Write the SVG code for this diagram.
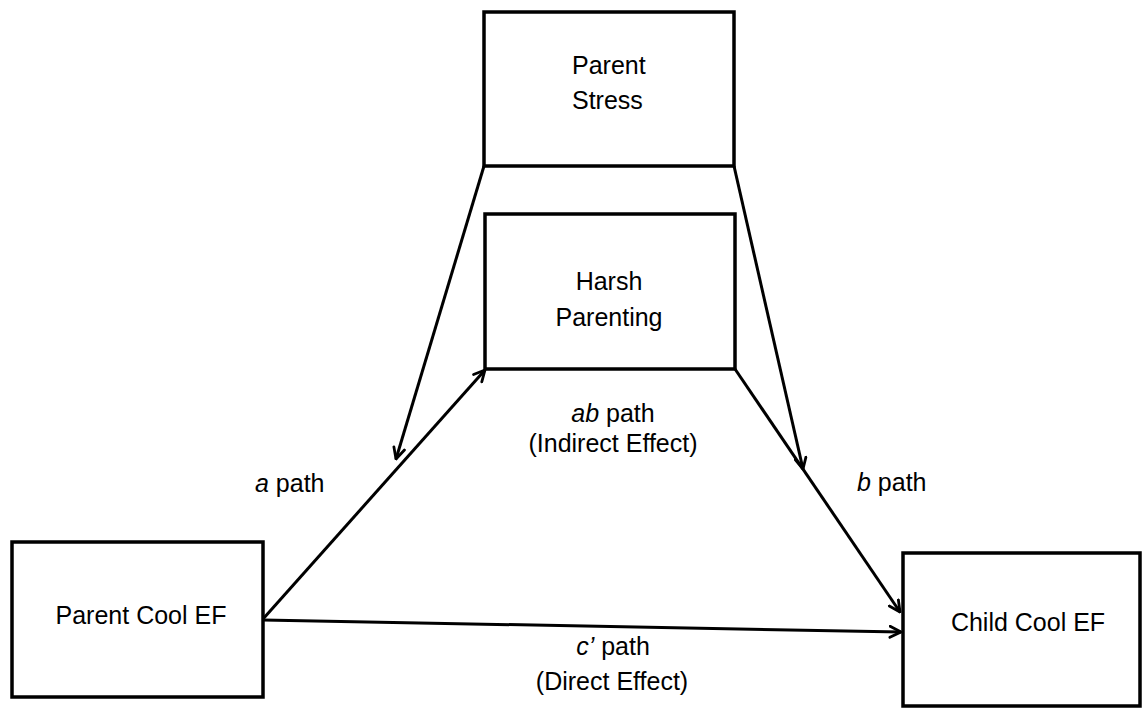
<svg xmlns="http://www.w3.org/2000/svg" width="1143" height="708" viewBox="0 0 1143 708">
<style>
.box{fill:#fff;stroke:#000;stroke-width:3.5}
.lbl{font-family:"Liberation Sans",Arial,sans-serif;font-size:25px;fill:#000}
.conn{fill:none;stroke:#000;stroke-width:3;marker-end:url(#arr)}
</style>
<defs>
<marker id="arr" viewBox="0 0 14 14" refX="12.5" refY="7" markerWidth="14" markerHeight="14" markerUnits="userSpaceOnUse" orient="auto">
<path d="M1.5,1.5 L12.5,7 L1.5,12.5" fill="none" stroke="#000" stroke-width="2.8" stroke-linecap="round" stroke-linejoin="round"/>
</marker>
</defs>
<rect width="1143" height="708" fill="#fff"/>
<g id="connectors">
<line class="conn" x1="263" y1="619" x2="485" y2="370"/>
<line class="conn" x1="263" y1="620" x2="901" y2="632"/>
<line class="conn" x1="735" y1="369" x2="900" y2="612"/>
<line class="conn" x1="484" y1="166" x2="396" y2="459"/>
<line class="conn" x1="734" y1="166" x2="803" y2="469"/>
</g>
<g id="parent-stress">
<rect class="box" x="484" y="12" width="250" height="154"/>
<text class="lbl" x="572" y="74">Parent</text>
<text class="lbl" x="572" y="109">Stress</text>
</g>
<g id="harsh-parenting">
<rect class="box" x="485" y="214" width="250" height="155"/>
<text class="lbl" x="609" y="290" text-anchor="middle">Harsh</text>
<text class="lbl" x="609" y="326" text-anchor="middle">Parenting</text>
</g>
<g id="parent-cool-ef">
<rect class="box" x="12" y="542" width="251" height="155"/>
<text class="lbl" x="141" y="624" text-anchor="middle">Parent Cool EF</text>
</g>
<g id="child-cool-ef">
<rect class="box" x="903" y="553" width="237" height="153"/>
<text class="lbl" x="1028" y="631" text-anchor="middle">Child Cool EF</text>
</g>
<g id="labels">
<text class="lbl" x="255" y="492"><tspan font-style="italic">a</tspan> path</text>
<text class="lbl" x="857" y="491"><tspan font-style="italic">b</tspan> path</text>
<text class="lbl" x="613" y="422" text-anchor="middle"><tspan font-style="italic">ab</tspan> path</text>
<text class="lbl" x="613" y="452" text-anchor="middle">(Indirect Effect)</text>
<text class="lbl" x="613" y="655" text-anchor="middle"><tspan font-style="italic">c’</tspan> path</text>
<text class="lbl" x="612" y="690" text-anchor="middle">(Direct Effect)</text>
</g>
</svg>
